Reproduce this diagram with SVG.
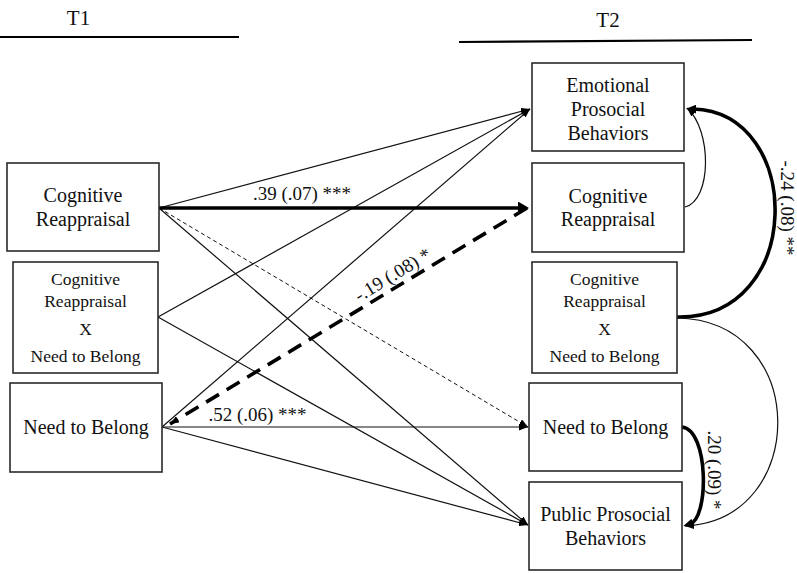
<svg xmlns="http://www.w3.org/2000/svg" width="797" height="573" viewBox="0 0 797 573">
<style>
text{font-family:'Liberation Serif','DejaVu Serif',serif;fill:#111}
.b{fill:#fff;stroke:#2a2a2a;stroke-width:1.6}
.t{font-size:20px;text-anchor:middle}
.s{font-size:17.5px;text-anchor:middle}
.h{font-size:21px;text-anchor:middle}
.lab{font-size:19px}
.ln{fill:none;stroke:#111;stroke-width:1.2}
.thin{marker-end:url(#ah)}
.bold{fill:none;stroke:#000;stroke-width:3.6}
.dsh{stroke-dasharray:4,3;stroke-width:1}
.bdsh{stroke-dasharray:15,9}
</style>
<defs>
<marker id="ah" markerUnits="userSpaceOnUse" markerWidth="9" markerHeight="7" viewBox="0 0 9 7" refX="9" refY="3.5" orient="auto"><path d="M0,0 L9,3.5 L0,7 z" fill="#000"/></marker>
<marker id="ahb" markerUnits="userSpaceOnUse" markerWidth="11" markerHeight="13" viewBox="0 0 11 13" refX="1" refY="6.5" orient="auto"><path d="M0,0 L11,6.5 L0,13 z" fill="#000"/></marker>
<marker id="ahc" markerUnits="userSpaceOnUse" markerWidth="10" markerHeight="9" viewBox="0 0 10 9" refX="3" refY="4.5" orient="auto"><path d="M0,0 L10,4.5 L0,9 z" fill="#000"/></marker>
</defs>

<g id="headers">
<text class="h" x="78.5" y="25" font-family="Liberation Serif, serif">T1</text>
<line x1="0" y1="37" x2="239" y2="37" stroke="#000" stroke-width="2.2"/>
<text class="h" x="608" y="27" font-family="Liberation Serif, serif">T2</text>
<line x1="459" y1="42" x2="752" y2="40" stroke="#000" stroke-width="2.2"/>
</g>

<g id="connectors">
<path class="ln thin" d="M159,208 L530,109"/>
<path class="ln thin dsh" d="M159,208 L528,427"/>
<path class="ln thin" d="M159,208 L528,525"/>
<path class="ln thin" d="M158,317 L530,109"/>
<path class="ln thin" d="M158,317 L528,525"/>
<path class="ln thin" d="M162,427 L530,109"/>
<path class="ln thin" d="M162,427 L528,427"/>
<path class="ln thin" d="M162,427 L528,525"/>
<path class="bold bdsh" d="M527,208 L170,424" marker-end="url(#ah)"/>
<path class="bold" d="M159,208 L519,208" marker-end="url(#ahb)"/>
<path class="ln thin" d="M685,207 C712,200 712,130 687,108"/>
<path class="bold" stroke-width="3.2" d="M677,317 C805,320 805,112 693,109" marker-end="url(#ahc)"/>
<path class="ln thin" d="M677,318 C810,320 810,520 685,526"/>
<path class="bold" stroke-width="3.2" d="M682,427 C709,430 709,518 690,524" marker-end="url(#ahc)"/>
<text class="lab" x="302" y="200" text-anchor="middle">.39 (.07) ***</text>
<text class="lab" x="257.5" y="421" text-anchor="middle">.52 (.06) ***</text>
<text class="lab" transform="translate(400,287) rotate(-31)" x="0" y="-8" text-anchor="middle">-.19 (.08) *</text>
<text class="lab" transform="translate(781,208) rotate(90)" text-anchor="middle">-.24 (.08) **</text>
<text class="lab" transform="translate(708,470) rotate(90)" text-anchor="middle">.20 (.09) *</text>
</g>

<g id="t1-cognitive-reappraisal">
<rect class="b" x="7" y="163" width="152" height="88"/>
<text class="t" x="83" y="202">Cognitive</text>
<text class="t" x="83" y="226">Reappraisal</text>
</g>
<g id="t1-interaction">
<rect class="b" x="13" y="262" width="145" height="111"/>
<text class="s" x="85.5" y="285">Cognitive</text>
<text class="s" x="85.5" y="307">Reappraisal</text>
<text class="s" x="85.5" y="335">X</text>
<text class="s" x="85.5" y="362">Need to Belong</text>
</g>
<g id="t1-need-to-belong">
<rect class="b" x="10" y="383" width="152" height="89"/>
<text class="t" x="86" y="434">Need to Belong</text>
</g>

<g id="t2-emotional-prosocial">
<rect class="b" x="532" y="63" width="152" height="88"/>
<text class="t" x="608" y="92">Emotional</text>
<text class="t" x="608" y="116">Prosocial</text>
<text class="t" x="608" y="140">Behaviors</text>
</g>
<g id="t2-cognitive-reappraisal">
<rect class="b" x="532" y="163" width="152" height="89"/>
<text class="t" x="608" y="203">Cognitive</text>
<text class="t" x="608" y="226">Reappraisal</text>
</g>
<g id="t2-interaction">
<rect class="b" x="532" y="262" width="145" height="111"/>
<text class="s" x="604.5" y="285">Cognitive</text>
<text class="s" x="604.5" y="307">Reappraisal</text>
<text class="s" x="604.5" y="335">X</text>
<text class="s" x="604.5" y="362">Need to Belong</text>
</g>
<g id="t2-need-to-belong">
<rect class="b" x="529" y="383" width="153" height="88"/>
<text class="t" x="605.5" y="434">Need to Belong</text>
</g>
<g id="t2-public-prosocial">
<rect class="b" x="529" y="482" width="153" height="88"/>
<text class="t" x="605.5" y="521">Public Prosocial</text>
<text class="t" x="605.5" y="545">Behaviors</text>
</g>
</svg>
